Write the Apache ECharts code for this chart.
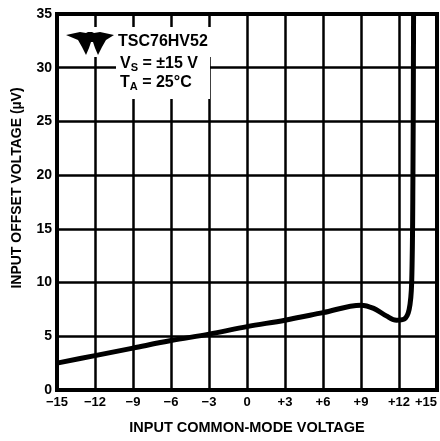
<!DOCTYPE html>
<html><head><meta charset="utf-8">
<script src="https://cdn.jsdelivr.net/npm/echarts@6/dist/echarts.min.js"></script>
<style>html,body{margin:0;padding:0;background:#fff}#c{width:440px;height:441px}</style>
</head><body><div id="c"></div>
<script>
const xValues = [-15, -12, -9, -6, -3, 0, 3, 6, 9, 10, 11, 11.8, 12.4, 12.8, 13.0, 13.1, 13.15];
const yValues = [2.5, 3.2, 3.9, 4.6, 5.2, 5.9, 6.5, 7.2, 7.9, 7.6, 6.9, 6.5, 6.6, 7.5, 10, 20, 35];
const xTicks = ['\u221215','\u221212','\u22129','\u22126','\u22123','0','+3','+6','+9','+12','+15'];
const yTicks = ['0','5','10','15','20','25','30','35'];
const partName = 'TSC76HV52';

const chart = echarts.init(document.getElementById('c'));
const ff = 'Liberation Sans, Arial, sans-serif';
chart.setOption({
  animation: false,
  backgroundColor: '#fff',
  grid: {left: 57, right: 3, top: 14, bottom: 51, show: true, borderColor: '#000', borderWidth: 4,
         containLabel: false, outerBoundsMode: 'none'},
  xAxis: {
    type: 'value', min: -15, max: 15, interval: 3,
    name: 'INPUT COMMON-MODE VOLTAGE', nameLocation: 'middle', nameGap: 30,
    nameTextStyle: {fontFamily: ff, fontWeight: 'bold', fontSize: 14.5, color: '#000'},
    axisLine: {show: true, onZero: false, lineStyle: {color: '#000', width: 4}},
    axisTick: {show: false},
    axisLabel: {fontFamily: ff, fontWeight: 'bold', fontSize: 13, color: '#000', margin: 6,
      alignMaxLabel: 'right',
      formatter: v => xTicks[Math.round((v + 15) / 3)]},
    splitLine: {show: true, lineStyle: {color: '#000', width: 2.5}}
  },
  yAxis: {
    type: 'value', min: 0, max: 35, interval: 5,
    name: 'INPUT OFFSET VOLTAGE (\u00b5V)', nameLocation: 'middle', nameGap: 33,
    nameTextStyle: {fontFamily: ff, fontWeight: 'bold', fontSize: 14, color: '#000', padding: [0, 0, 0, 28]},
    axisLine: {show: true, onZero: false, lineStyle: {color: '#000', width: 4}},
    axisTick: {show: false},
    axisLabel: {fontFamily: ff, fontWeight: 'bold', fontSize: 14, color: '#000', margin: 5,
      formatter: v => yTicks[Math.round(v / 5)]},
    splitLine: {show: true, lineStyle: {color: '#000', width: 2.5}}
  },
  series: [{
    type: 'line', smooth: 0.35, symbol: 'none',
    data: xValues.map((x, i) => [x, yValues[i]]),
    lineStyle: {color: '#000', width: 5}
  }],
  graphic: [
    {type: 'rect', z: 10, shape: {x: 62, y: 27, width: 150, height: 30}, style: {fill: '#fff'}},
    {type: 'rect', z: 10, shape: {x: 116, y: 51, width: 94, height: 48}, style: {fill: '#fff'}},
    {type: 'polygon', z: 11, shape: {points: [
      [66,35],[80,32],[86,33],[88,32],[92,32],[94,33],[100,32],[114,35],
      [106,40],[102,47],[98,55],[95,48],[93,42],[91,42],[89,48],[86,55],[82,47],[78,40]
    ]}, style: {fill: '#000'}},
    {type: 'text', z: 12, left: 118, top: 34, style: {text: partName, fontFamily: ff, fontWeight: 'bold', fontSize: 16, fill: '#000'}},
    {type: 'text', z: 12, left: 120, top: 56, style: {
      text: '{b|V}{s|S}{b| = \u00b115 V}', fill: '#000',
      rich: {b: {fontFamily: ff, fontWeight: 'bold', fontSize: 16}, s: {fontFamily: ff, fontWeight: 'bold', fontSize: 11, padding: [8,0,0,0]}}
    }},
    {type: 'text', z: 12, left: 120, top: 75, style: {
      text: '{b|T}{s|A}{b| = 25\u00b0C}', fill: '#000',
      rich: {b: {fontFamily: ff, fontWeight: 'bold', fontSize: 16}, s: {fontFamily: ff, fontWeight: 'bold', fontSize: 11, padding: [8,0,0,0]}}
    }}
  ]
});
</script></body></html>
